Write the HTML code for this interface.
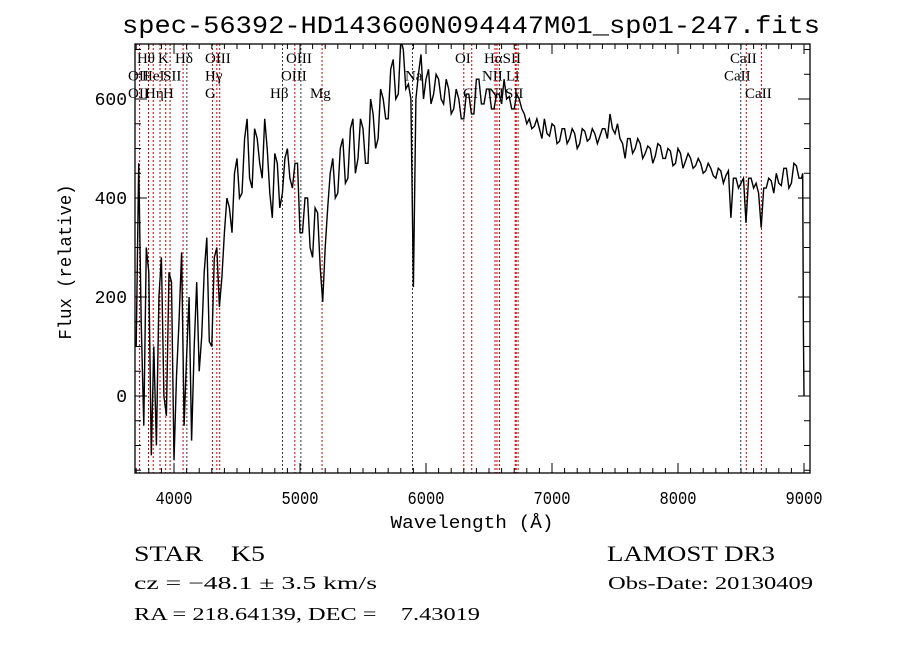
<!DOCTYPE html>
<html><head><meta charset="utf-8"><style>
html,body{margin:0;padding:0;background:#fff;}
svg{display:block;}
text{fill:#000;}
.ser{font-family:"Liberation Serif",serif;}
.mono{font-family:"Liberation Mono",monospace;}
</style></head><body>
<svg id="chart" width="900" height="649" viewBox="0 0 900 649" xmlns="http://www.w3.org/2000/svg">
<rect x="0" y="0" width="900" height="649" fill="#fff"/>
<text class="mono" x="122" y="33" font-size="25" textLength="698" lengthAdjust="spacingAndGlyphs">spec-56392-HD143600N094447M01_sp01-247.fits</text>
<g id="lines"></g>
<g id="labels"></g>
<g id="series"></g>
<g id="axes"></g>
<text class="mono" x="472" y="528" font-size="18" text-anchor="middle" textLength="163" lengthAdjust="spacingAndGlyphs">Wavelength (Å)</text>
<text class="mono" x="0" y="0" font-size="18" text-anchor="middle" textLength="155" lengthAdjust="spacingAndGlyphs" transform="translate(71,262) rotate(-90)">Flux (relative)</text>
<text class="ser" x="134" y="561" font-size="22" textLength="131" lengthAdjust="spacingAndGlyphs">STAR&#160;&#160;&#160;&#160;K5</text>
<text class="ser" x="607" y="561" font-size="22" textLength="168" lengthAdjust="spacingAndGlyphs">LAMOST DR3</text>
<text class="ser" x="134" y="589" font-size="18" textLength="243" lengthAdjust="spacingAndGlyphs">cz = −48.1 ± 3.5 km/s</text>
<text class="ser" x="608" y="589" font-size="18" textLength="205" lengthAdjust="spacingAndGlyphs">Obs-Date: 20130409</text>
<text class="ser" x="134" y="620" font-size="18" textLength="346" lengthAdjust="spacingAndGlyphs" xml:space="preserve">RA = 218.64139, DEC =    7.43019</text>
</svg>
<script>
const waveStart = 3700;
const waveStep = 20;
const flux = [
100,470,150,-60,300,250,-120,100,-100,200,
280,0,-40,250,230,-130,40,150,290,-60,
80,200,-90,100,230,50,120,250,320,110,
100,280,300,180,240,330,400,380,330,450,
480,400,410,520,560,440,420,540,520,470,
440,560,500,410,360,490,470,380,410,480,
500,440,420,470,470,330,330,400,400,300,
280,380,370,260,190,300,380,450,480,400,
410,500,520,430,440,540,560,450,480,560,
540,470,470,600,570,500,520,620,600,560,
560,660,680,600,610,720,700,620,630,600,
220,600,650,690,600,640,660,590,610,650,
640,600,590,640,620,570,580,620,600,560,
560,610,610,570,570,640,640,590,590,620,
620,580,580,610,610,590,640,600,605,580,
580,610,600,580,570,550,560,540,545,560,
540,520,560,530,525,550,545,510,515,540,
540,510,520,540,530,500,510,540,535,515,
520,540,530,510,525,540,540,520,570,540,
530,550,520,510,480,520,520,490,500,520,
510,480,490,505,500,470,485,510,505,480,
480,500,495,465,470,500,490,460,475,490,
480,460,465,480,470,450,455,470,460,445,
440,460,455,430,445,455,360,440,440,420,
430,440,350,440,440,420,430,410,340,420,
420,440,435,410,450,430,425,460,460,420,
430,470,465,440,440];
const tailWave = [8990,8995,9000];
const tailFlux = [450,130,0];
const xTicks = [4000,5000,6000,7000,8000,9000];
const yTicks = [0,200,400,600];
const lineWaves = [3727,3798,3835,3889,3934,3969,4072,4102,4305,4340,4363,4861,4959,5007,5175,5893,6300,6363,6548,6563,6583,6708,6716,6731,8498,8542,8662];
const lineColors = ["r","r","r","r","r","r","r","k","r","r","r","k","r","k","r","k","r","r","r","r","r","r","r","r","k","r","r"];
const labelText = ["Hθ","K","Hδ","OIII","OIII","OI","HαSII","CaII","OII","HeI","SII","Hγ","OIII","Na","NII","Li","CaII","OII","Hη","H","G","Hβ","Mg","CI","NI","SII","CaII"];
const labelWave = [3706,3873,4008,4246,4889,6230,6460,8413,3635,3746,3913,4246,4849,5833,6444,6635,8365,3635,3770,3913,4246,4762,5079,6294,6492,6627,8532];
const labelRow = [0,0,0,0,0,0,0,0,1,1,1,1,1,1,1,1,1,2,2,2,2,2,2,2,2,2,2];

const X0=135,X1=810,Y0=44,Y1=473;
function xs(w){return 174+(w-4000)*0.126;}
function ys(f){return 396-f*0.495;}
const NS="http://www.w3.org/2000/svg";
function mk(tag,attrs,parent){const e=document.createElementNS(NS,tag);for(const k in attrs)e.setAttribute(k,attrs[k]);parent.appendChild(e);return e;}

const gl=document.getElementById('lines');
lineWaves.forEach((w,i)=>{
  const l=mk('line',{x1:xs(w),x2:xs(w),y1:Y0,y2:Y1,stroke:lineColors[i]==="r"?"#c00000":"#333","stroke-width":1,"stroke-dasharray":"2,2"},gl);
  
  
});
const glb=document.getElementById('labels');
labelText.forEach((t,i)=>{
  const e=mk('text',{x:xs(labelWave[i]),y:63+labelRow[i]*17.5,"font-size":15,"class":"ser"},glb);
  e.textContent=t;
  
  
});

const gs=document.getElementById('series');
let pts=[];
flux.forEach((f,i)=>{pts.push(xs(waveStart+i*waveStep).toFixed(1)+","+ys(f).toFixed(1));});
tailWave.forEach((w,i)=>{pts.push(xs(w).toFixed(1)+","+ys(tailFlux[i]).toFixed(1));});
const cp=mk('clipPath',{id:'clip'},gs);mk('rect',{x:X0,y:Y0,width:X1-X0,height:Y1-Y0},cp);
const pl=mk('polyline',{points:pts.join(" "),fill:"none",stroke:"#000","stroke-width":1.4,"clip-path":"url(#clip)"},gs);



const ga=document.getElementById('axes');
const fr=mk('rect',{x:X0,y:Y0,width:X1-X0,height:Y1-Y0,fill:"none",stroke:"#000","stroke-width":1.3},ga);


for(let w=3700;w<=9000;w+=100){
  const x=xs(w);if(x<X0||x>X1)continue;
  const big=w%1000===0;const len=big?10:5;
  mk('line',{x1:x,x2:x,y1:Y1,y2:Y1-len,stroke:"#000"},ga);
  mk('line',{x1:x,x2:x,y1:Y0,y2:Y0+len,stroke:"#000"},ga);
}
for(let f=-150;f<=700;f+=50){
  const y=ys(f);if(y<Y0||y>Y1)continue;
  const big=f%200===0;const len=big?12:6;
  mk('line',{x1:X0,x2:X0+len,y1:y,y2:y,stroke:"#000"},ga);
  mk('line',{x1:X1,x2:X1-len,y1:y,y2:y,stroke:"#000"},ga);
}
xTicks.forEach(w=>{
  const t=mk('text',{x:xs(w),y:504,"font-size":18,"text-anchor":"middle","class":"mono",textLength:37,lengthAdjust:"spacingAndGlyphs"},ga);
  t.textContent=String(w);
  
  
});
yTicks.forEach(f=>{
  const t=mk('text',{x:127,y:ys(f)+6,"font-size":18,"text-anchor":"end","class":"mono"},ga);
  t.textContent=String(f);
  
  
});
</script>
</body></html>
